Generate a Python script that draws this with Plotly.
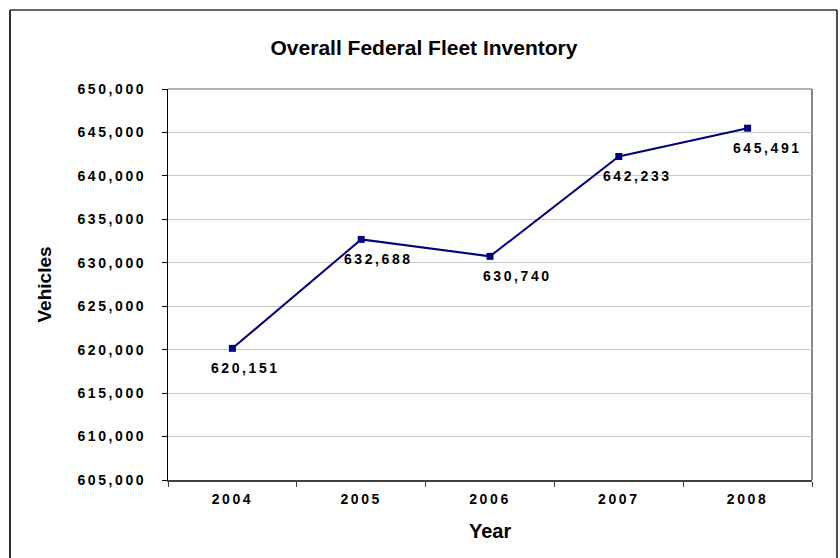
import plotly.graph_objects as go

years = ["2004", "2005", "2006", "2007", "2008"]
vehicles = [620151, 632688, 630740, 642233, 645491]
label_texts = ["620,151", "632,688", "630,740", "642,233", "645,491"]
label_dx = [13, 17, 27, 19, 20]  # pixel offsets of data labels (style)

W, H = 840, 558
L, R, T, B = 168, 812, 89, 480

NAVY = "#000080"
FONT = "Liberation Sans"

fig = go.Figure()
fig.add_trace(go.Scatter(
    x=years, y=vehicles, mode="lines+markers",
    line=dict(color=NAVY, width=2),
    marker=dict(symbol="square", size=7, color=NAVY),
    hoverinfo="skip", showlegend=False,
))

annotations = []
for i, (v, t, dx) in enumerate(zip(vehicles, label_texts, label_dx)):
    annotations.append(dict(
        x=i, y=v, xref="x", yref="y", text=t, showarrow=False,
        xshift=dx, yshift=-20,
        font=dict(family=FONT, size=14, color="black", weight="bold"),
    ))

pw, ph = R - L, B - T
annotations.append(dict(
    x=(44 - L) / pw, y=0.5, xref="paper", yref="paper", text="Vehicles",
    textangle=-90, showarrow=False, xanchor="center", yanchor="middle",
    font=dict(family=FONT, size=19, color="black", weight="bold"),
))
annotations.append(dict(
    x=0.5, y=(B - 531) / ph, xref="paper", yref="paper", text="Year",
    showarrow=False, xanchor="center", yanchor="middle",
    font=dict(family=FONT, size=20, color="black", weight="bold"),
))

shapes = [
    # outer chart border (left, top, right)
    dict(type="line", xref="paper", yref="paper",
         x0=(10 - L) / pw, x1=(10 - L) / pw, y0=(B - 600) / ph, y1=(B - 10) / ph,
         line=dict(color="#333333", width=2)),
    dict(type="line", xref="paper", yref="paper",
         x0=(10 - L) / pw, x1=(837 - L) / pw, y0=(B - 10) / ph, y1=(B - 10) / ph,
         line=dict(color="#333333", width=1.5)),
    dict(type="line", xref="paper", yref="paper",
         x0=(837 - L) / pw, x1=(837 - L) / pw, y0=(B - 600) / ph, y1=(B - 10) / ph,
         line=dict(color="#111111", width=1.5)),
    # plot area border top/right (gray)
    dict(type="line", xref="paper", yref="paper", x0=0, x1=1, y0=1, y1=1,
         line=dict(color="#9a9a9a", width=1.5), layer="below"),
    dict(type="line", xref="paper", yref="paper", x0=1, x1=1, y0=0, y1=1,
         line=dict(color="#8a8a8a", width=2), layer="below"),
]

fig.update_layout(
    width=W, height=H,
    margin=dict(l=L, r=W - R, t=T, b=H - B),
    paper_bgcolor="white", plot_bgcolor="white",
    title=dict(text="Overall Federal Fleet Inventory", xref="container", yref="container",
               x=424 / W, y=1 - 48 / H, xanchor="center", yanchor="middle",
               font=dict(family=FONT, size=21, color="black", weight="bold")),
    xaxis=dict(type="category", range=[-0.5, 4.5], tickson="boundaries",
               ticks="outside", ticklen=5, tickcolor="#404040",
               showline=True, linecolor="#404040", linewidth=2,
               showgrid=False, zeroline=False, ticklabelstandoff=5,
               tickfont=dict(family=FONT, size=14, color="black", weight="bold")),
    yaxis=dict(range=[605000, 650000], dtick=5000, tickformat=",",
               ticks="outside", ticklen=5, tickcolor="black",
               showline=True, linecolor="black", linewidth=1,
               showgrid=True, gridcolor="#c8c8c8", gridwidth=1, zeroline=False,
               ticklabelstandoff=13,
               tickfont=dict(family=FONT, size=14, color="black", weight="bold")),
    annotations=annotations, shapes=shapes,
)

post = """
document.body.style.margin = '0';
document.body.style.padding = '0';
var gd = document.getElementById('{plot_id}');
function spacing() {
  gd.querySelectorAll('.xtick text, .ytick text').forEach(function(t){ t.style.letterSpacing = '2.6px'; });
  gd.querySelectorAll('.annotation-text').forEach(function(t){
    var s = t.textContent;
    if (/^[0-9,]+$/.test(s)) { t.style.letterSpacing = '2.6px'; }
  });
}
spacing();
gd.on('plotly_afterplot', spacing);
"""

fig.write_html("out.html", post_script=post, config={"displayModeBar": False})
